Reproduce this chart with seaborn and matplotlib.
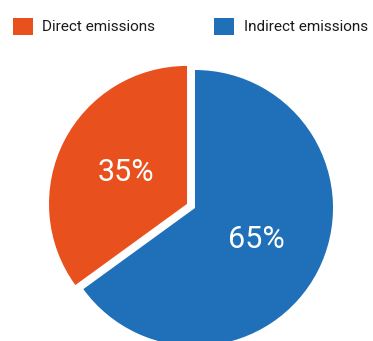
import matplotlib
matplotlib.use("Agg")
import matplotlib.pyplot as plt
import seaborn as sns

sns.set_style("white")
plt.rcParams['font.family'] = ["Roboto", "DejaVu Sans"]

categories = ["Direct emissions", "Indirect emissions"]
values = [35, 65]
colors = ["#E8501E", "#1F70B8"]

fig = plt.figure(figsize=(3.73, 3.41), dpi=100)
ax = fig.add_axes([0, 0, 1, 1])
wedges, texts, autotexts = ax.pie(
    values, colors=colors, startangle=90, counterclock=True,
    explode=[0.065, 0], autopct=lambda p: f"{p:.0f}%", pctdistance=0.5,
    textprops=dict(color="white", fontsize=22), radius=1.0,
    wedgeprops=dict(linewidth=0))
ax.set_xlim(-195/138, (373-195)/138)
ax.set_ylim(-133/138, 208/138)
ax.set_aspect("auto")
ax.axis("off")

leg = ax.legend(wedges, categories, loc="upper left", ncol=2,
                bbox_to_anchor=(13/373, 1 - 18/341), bbox_transform=fig.transFigure,
                frameon=False, fontsize=11, handlelength=1.3, handleheight=1.3,
                handletextpad=0.63, columnspacing=3.85, borderaxespad=0, borderpad=0,
                labelcolor="#1a1a1a")
fig.savefig("out.png", dpi=100)
